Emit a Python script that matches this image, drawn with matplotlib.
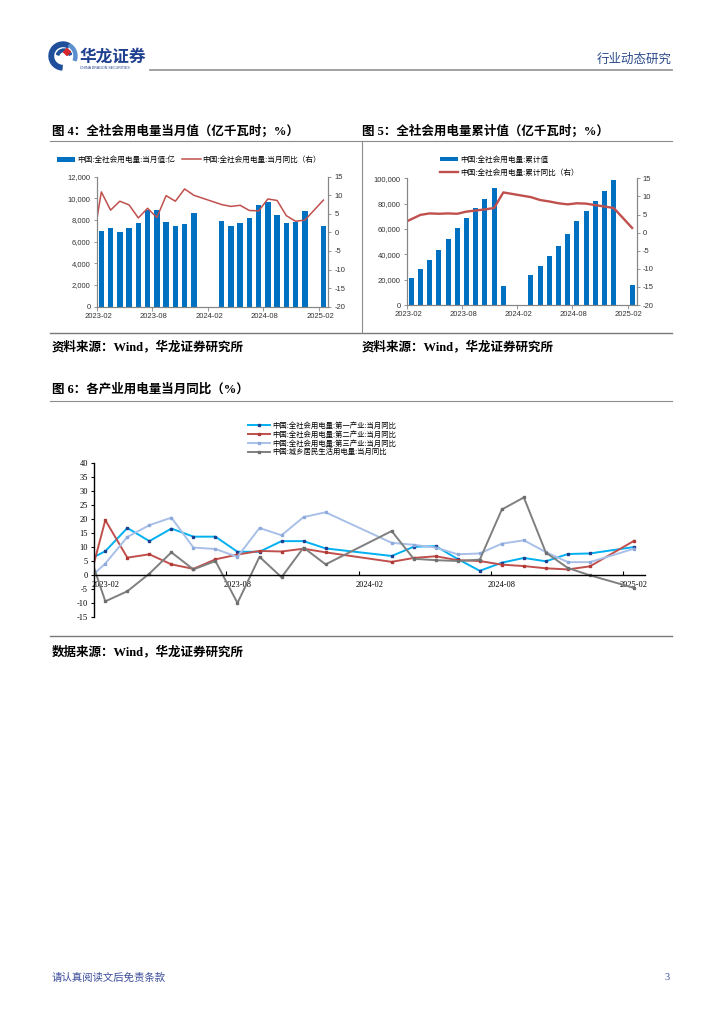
import numpy as np
import matplotlib
matplotlib.use("Agg")
import matplotlib.pyplot as plt
from matplotlib import patches
from matplotlib.ticker import FuncFormatter, MultipleLocator

plt.rcParams['font.family'] = ['Liberation Sans', 'Noto Sans CJK SC', 'DejaVu Sans']
plt.rcParams['axes.unicode_minus'] = False

nan = np.nan

# month slots shared by all three charts (2023-01 sits just left of the axes and is clipped)
months = ['2023-01', '2023-02', '2023-03', '2023-04', '2023-05', '2023-06', '2023-07',
          '2023-08', '2023-09', '2023-10', '2023-11', '2023-12', '2024-01', '2024-02',
          '2024-03', '2024-04', '2024-05', '2024-06', '2024-07', '2024-08', '2024-09',
          '2024-10', '2024-11', '2024-12', '2025-01', '2025-02']
tick_months = ['2023-02', '2023-08', '2024-02', '2024-08', '2025-02']

# fig 4: monthly consumption (100 million kWh) and yoy (%)
monthly_value = [nan, 6950, 7310, 6900, 7230, 7760, 8970, 8890, 7810, 7430, 7640, 8630,
                 nan, nan, 7950, 7430, 7770, 8200, 9390, 9680, 8460, 7770, 7850, 8820,
                 nan, 7480]
monthly_yoy = [-4.3, 10.9, 6.0, 8.4, 7.4, 3.9, 6.5, 4.0, 9.9, 8.4, 11.7, 10.0,
               nan, nan, 7.5, 7.0, 7.3, 5.9, 5.8, 9.0, 8.6, 4.5, 3.0, 3.3,
               nan, 8.7]

# fig 5: cumulative consumption and cumulative yoy (%)
cum_value = [nan, 21000, 28200, 35500, 43100, 52100, 60800, 68800, 76200, 83700, 92600,
             15300, nan, nan, 23600, 31000, 38400, 46600, 56000, 66200, 74100, 81900,
             89700, 98800, nan, 15400]
cum_yoy = [2.5, 3.7, 4.9, 5.3, 5.2, 5.3, 5.2, 5.8, 6.1, 6.4, 6.8, 11.1,
           nan, nan, 9.8, 9.0, 8.6, 8.1, 7.8, 8.1, 8.0, 7.6, 7.2, 6.8,
           nan, 1.3]

# fig 6: yoy by sector (%)
primary = [4.6, 8.6, 16.9, 12.2, 16.7, 13.8, 13.8, 8.4, 8.4, 12.2, 12.2, 9.6,
           nan, nan, 6.9, 10.2, 10.4, 5.8, 1.6, 4.5, 6.2, 5.0, 7.6, 7.8, nan, 10.1]
secondary = [-10.1, 19.7, 6.3, 7.5, 3.9, 2.3, 5.7, 7.4, 8.7, 8.5, 9.5, 8.2,
             nan, nan, 4.8, 6.2, 6.8, 5.4, 5.1, 3.8, 3.3, 2.5, 2.1, 3.2, nan, 12.3]
tertiary = [-3.0, 4.2, 13.7, 17.9, 20.6, 9.9, 9.4, 6.6, 16.9, 14.3, 20.8, 22.5,
            nan, nan, 11.6, 10.9, 9.9, 7.5, 7.8, 11.3, 12.5, 8.3, 4.7, 4.7, nan, 9.5]
resident = [14.1, -9.3, -5.7, 0.6, 8.2, 2.1, 5.1, -9.9, 6.6, -0.7, 9.9, 3.9,
            nan, nan, 15.8, 5.9, 5.4, 5.1, 5.6, 23.5, 27.8, 8.1, 2.6, 0.0, nan, -4.5]

sector_names = ['中国:全社会用电量:第一产业:当月同比', '中国:全社会用电量:第二产业:当月同比',
                '中国:全社会用电量:第三产业:当月同比', '中国:城乡居民生活用电量:当月同比']

BLUE = '#0070C0'
RED = '#C0504D'
SPINE = '#868686'
W, H = 724, 1024

x = np.arange(len(months)) - 1.0
bounds = [months.index(m) - 1.5 for m in tick_months]

fig = plt.figure(figsize=(W / 100, H / 100), dpi=100)

# page layer in pixel coordinates
page = fig.add_axes([0, 0, 1, 1])
page.set_xlim(0, W)
page.set_ylim(H, 0)
page.axis('off')


def place(l, t, r, b):
    a = fig.add_axes([l / W, 1 - b / H, (r - l) / W, (b - t) / H])
    a.set_facecolor('none')
    return a


def valid(vals):
    v = np.array(vals, dtype=float)
    m = ~np.isnan(v)
    return x[m], v[m]


SERIF_CJK = ['Liberation Serif', 'Noto Sans CJK SC']

# header
page.add_patch(patches.Wedge((63, 56), 14, 95, 300, width=4.5, color='#1F4E9A'))
page.add_patch(patches.Wedge((63, 56), 14, 300, 20, width=3, color='#5B8FD0'))
page.add_patch(patches.Wedge((64, 57), 8, 200, 340, width=2.5, color='#1F4E9A'))
page.add_patch(patches.RegularPolygon((67, 52), 4, radius=3.5, color='#D7282F'))
page.text(80, 57, '华龙证券', fontsize=12, fontweight='bold', color='#1F3F8F', va='center',
          family=['Noto Sans CJK SC'])
page.text(80, 68, 'CHINA DRAGON SECURITIES', fontsize=2.6, color='#1F3F8F', va='center')
page.plot([150, 672], [70, 70], color='#9A9A9A', lw=1.3)
page.text(672, 60, '行业动态研究', fontsize=9, color='#2B4A8B', ha='right', va='center')

# frames and captions
page.plot([50, 672], [141, 141], color='#8C8C8C', lw=0.8)
page.plot([50, 672], [333, 333], color='#7A7A7A', lw=1.0)
page.plot([362, 362], [141, 333], color='#8C8C8C', lw=0.8)
page.plot([50, 672], [401, 401], color='#8C8C8C', lw=0.8)
page.plot([50, 672], [636, 636], color='#7A7A7A', lw=1.0)

page.text(52, 131, '图 4：全社会用电量当月值（亿千瓦时；%）', fontsize=9, fontweight='bold',
          va='center', family=SERIF_CJK)
page.text(362, 131, '图 5：全社会用电量累计值（亿千瓦时；%）', fontsize=9, fontweight='bold',
          va='center', family=SERIF_CJK)
page.text(52, 347, '资料来源：Wind，华龙证券研究所', fontsize=9, fontweight='bold',
          va='center', family=SERIF_CJK)
page.text(362, 347, '资料来源：Wind，华龙证券研究所', fontsize=9, fontweight='bold',
          va='center', family=SERIF_CJK)
page.text(52, 390, '图 6：各产业用电量当月同比（%）', fontsize=9, fontweight='bold',
          va='center', family=SERIF_CJK)
page.text(52, 652, '数据来源：Wind，华龙证券研究所', fontsize=9, fontweight='bold',
          va='center', family=SERIF_CJK)
page.text(52, 978, '请认真阅读文后免责条款', fontsize=7.5, color='#3D4E9A', va='center')
page.text(670, 978, '3', fontsize=7.5, color='#3D4E9A', va='center', ha='right',
          family=['Liberation Serif'])


def style_pair(ax, rax, ymax, ystep):
    ax.set_xlim(-0.5, 24.5)
    ax.set_ylim(0, ymax)
    rax.set_ylim(-20, 15)
    ax.yaxis.set_major_locator(MultipleLocator(ystep))
    ax.yaxis.set_major_formatter(FuncFormatter(lambda v, p: f'{v:,.0f}'))
    rax.yaxis.set_major_locator(MultipleLocator(5))
    for a in (ax, rax):
        for s in a.spines.values():
            s.set_color(SPINE)
            s.set_linewidth(0.8)
        a.spines['top'].set_visible(False)
        a.tick_params(axis='y', length=2.5, width=0.6, color=SPINE, labelsize=5.5,
                      labelcolor='#333333', pad=2)
    ax.set_xticks(bounds)
    ax.set_xticklabels([])
    ax.tick_params(axis='x', which='major', length=3, width=0.6, color=SPINE)
    ax.set_xticks([b + 0.15 for b in bounds], minor=True)
    ax.set_xticklabels(tick_months, minor=True)
    ax.tick_params(axis='x', which='minor', length=0, labelsize=5.5, labelcolor='#333333', pad=4.5)


# fig 4
ax4 = place(96.7, 176.7, 328, 306.7)
xb, vb = valid(monthly_value)
bars4 = ax4.bar(xb, vb, width=0.58, color=BLUE)
r4 = ax4.twinx()
xl, vl = valid(monthly_yoy)
line4, = r4.plot(xl, vl, color=RED, lw=1.1)
style_pair(ax4, r4, 12000, 2000)
r4.legend([bars4, line4], ['中国:全社会用电量:当月值:亿', '中国:全社会用电量:当月同比（右）'],
          ncol=2, loc='center left', bbox_to_anchor=(57 / W, 1 - 160 / H),
          bbox_transform=fig.transFigure, frameon=False, fontsize=5.5, handlelength=2.4,
          handleheight=0.6, handletextpad=0.2, columnspacing=1.0, borderpad=0, borderaxespad=0)

# fig 5
ax5 = place(406.7, 178.3, 636.7, 305)
xb, vb = valid(cum_value)
bars5 = ax5.bar(xb, vb, width=0.56, color=BLUE)
r5 = ax5.twinx()
xl, vl = valid(cum_yoy)
line5, = r5.plot(xl, vl, color=RED, lw=1.7)
style_pair(ax5, r5, 100000, 20000)
r5.legend([bars5, line5], ['中国:全社会用电量:累计值', '中国:全社会用电量:累计同比（右）'],
          loc='upper left', bbox_to_anchor=(440 / W, 1 - 156 / H),
          bbox_transform=fig.transFigure, frameon=False, fontsize=5.5, handlelength=2.4,
          handleheight=0.6, handletextpad=0.2, labelspacing=0.7, borderpad=0, borderaxespad=0)

# fig 6
ax6 = place(94.3, 463.3, 645, 617.3)
styles = [('#00B0F0', '#1F3F8F'), ('#C0504D', '#B03A36'), ('#A8C0E8', '#8EAADC'),
          ('#7F7F7F', '#6E6E6E')]
for vals, name, (lc, mc) in zip([primary, secondary, tertiary, resident], sector_names, styles):
    xs, vs = valid(vals)
    ax6.plot(xs, vs, color=lc, lw=1.4, marker='s', ms=1.8, mfc=mc, mec=mc, label=name)
ax6.set_xlim(-0.5, 24.5)
ax6.set_ylim(-15, 40)
ax6.spines['bottom'].set_position(('data', 0))
ax6.spines['top'].set_visible(False)
ax6.spines['right'].set_visible(False)
ax6.spines['left'].set_linewidth(1.0)
ax6.spines['bottom'].set_linewidth(1.0)
ax6.yaxis.set_major_locator(MultipleLocator(5))
ax6.tick_params(axis='y', length=2.5, width=0.8, labelsize=6, pad=2)
ax6.set_xticks(bounds)
ax6.set_xticklabels([])
ax6.tick_params(axis='x', which='major', direction='in', length=3, width=0.8)
ax6.set_xticks([b + 0.5 for b in bounds], minor=True)
ax6.set_xticklabels(tick_months, minor=True)
ax6.tick_params(axis='x', which='minor', length=0, labelsize=6, pad=4)
for t in ax6.get_yticklabels() + ax6.get_xticklabels(minor=True):
    t.set_family('Liberation Serif')
ax6.legend(loc='upper left', bbox_to_anchor=(248 / W, 1 - 422 / H),
           bbox_transform=fig.transFigure, frameon=False, fontsize=5.3, handlelength=3.0,
           handletextpad=0.3, labelspacing=0.15, borderpad=0, borderaxespad=0)

fig.savefig('out.png', dpi=100)
